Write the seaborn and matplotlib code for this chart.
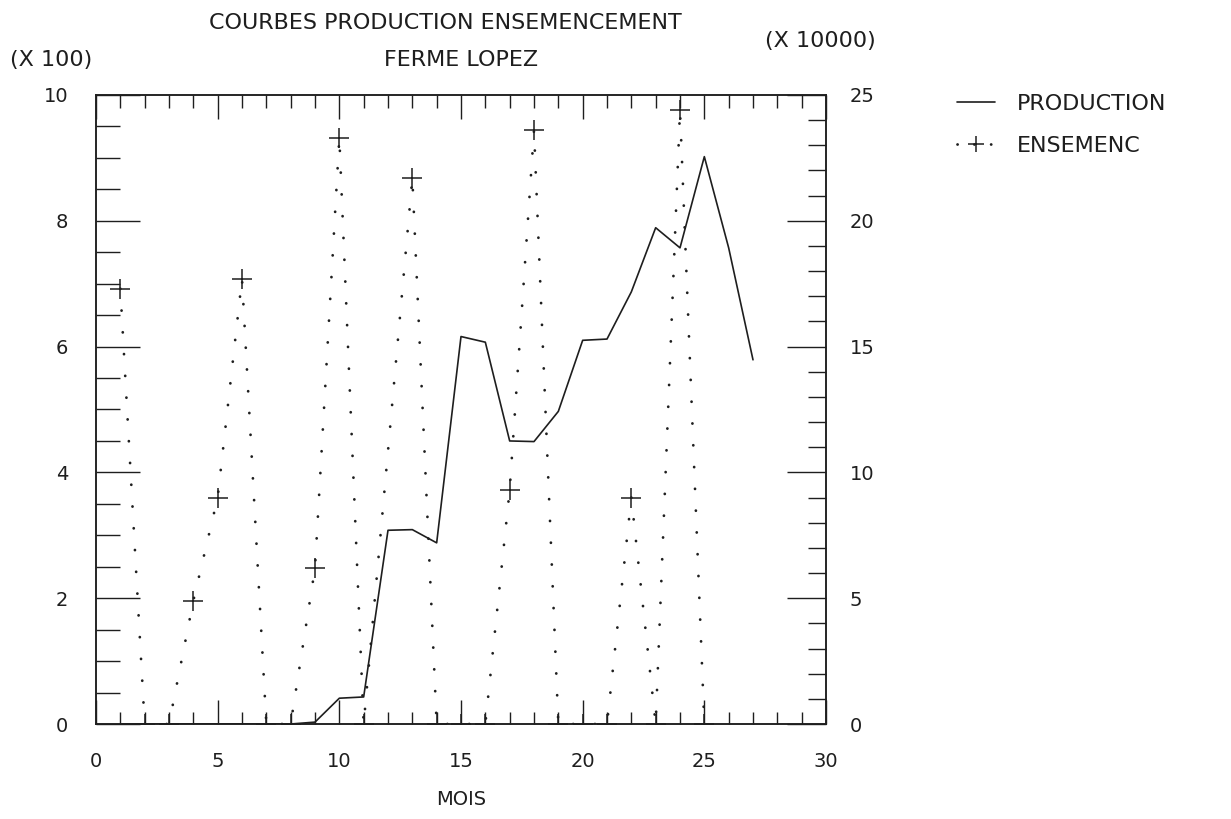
import matplotlib
matplotlib.use("Agg")
import matplotlib.pyplot as plt
from matplotlib.lines import Line2D
from matplotlib.ticker import MultipleLocator
import seaborn as sns
import pandas as pd

# Monthly production (hundreds) and seeding (tens of thousands)
mois_production = list(range(1, 28))
production = [0, 0, 0, 0, 0, 0, 0, 0, 0.03, 0.41, 0.43, 3.08, 3.09, 2.88,
              6.16, 6.07, 4.50, 4.49, 4.97, 6.10, 6.12, 6.87, 7.89, 7.57,
              9.02, 7.57, 5.79]

mois_ensemenc = [1, 2, 3, 4, 5, 6, 7, 8, 9, 10, 11, 13, 14, 15, 16, 17, 18,
                 19, 20, 21, 22, 23, 24, 25]
ensemenc = [17.3, 0, 0, 4.9, 9.0, 17.7, 0, 0, 6.2, 23.3, 0, 21.7, 0, 0, 0,
            9.3, 23.6, 0, 0, 0, 9.0, 0, 24.4, 0]

x_ticks = [0, 5, 10, 15, 20, 25, 30]
left_ticks = [0, 2, 4, 6, 8, 10]
right_ticks = [0, 5, 10, 15, 20, 25]

sns.set_style("white")
plt.rcParams["font.family"] = ["DejaVu Sans"]
INK = "#1e1e1e"
plt.rcParams["text.color"] = INK
plt.rcParams["axes.labelcolor"] = INK
plt.rcParams["xtick.color"] = INK
plt.rcParams["ytick.color"] = INK

W, H = 1231, 819
fig = plt.figure(figsize=(W / 100, H / 100), dpi=100)
ax = fig.add_axes([96 / W, 1 - 724 / H, 730 / W, 629 / H])
ax2 = ax.twinx()

df_p = pd.DataFrame({"mois": mois_production, "production": production})
df_e = pd.DataFrame({"mois": mois_ensemenc, "ensemenc": ensemenc})

sns.lineplot(data=df_p, x="mois", y="production", ax=ax, color=INK,
             linewidth=1.2, sort=True)
sns.lineplot(data=df_e, x="mois", y="ensemenc", ax=ax2, color=INK,
             linewidth=2.0, marker="+", markersize=14, markeredgewidth=1.1,
             markeredgecolor=INK, sort=True)
DOTS = (0, (0.05, 7.8))
dot_line = ax2.lines[-1]
dot_line.set_linestyle(DOTS)
dot_line.set_dash_capstyle("round")

ax.set_xlim(0, 30)
ax.set_ylim(0, 10)
ax2.set_ylim(0, 25)

ax.set_xticks(x_ticks)
ax.set_xticklabels([str(v) for v in x_ticks])
ax.xaxis.set_minor_locator(MultipleLocator(1))
ax.set_yticks(left_ticks)
ax.set_yticklabels([str(v) for v in left_ticks])
ax.yaxis.set_minor_locator(MultipleLocator(0.5))
ax2.set_yticks(right_ticks)
ax2.set_yticklabels([str(v) for v in right_ticks])
ax2.yaxis.set_minor_locator(MultipleLocator(1))

ax.tick_params(axis="x", which="both", direction="in", top=True, bottom=True,
               labelsize=14, pad=20, width=1.0)
ax.tick_params(axis="x", which="major", length=17)
ax.tick_params(axis="x", which="minor", length=9)
ax.tick_params(axis="y", which="both", direction="in", left=True, right=False,
               labelsize=14, pad=20, width=1.0)
ax.tick_params(axis="y", which="major", length=32)
ax.tick_params(axis="y", which="minor", length=17)
ax2.tick_params(axis="y", which="both", direction="in", right=True, left=False,
                labelsize=14, pad=17, width=1.0)
ax2.tick_params(axis="y", which="major", length=28)
ax2.tick_params(axis="y", which="minor", length=13)

for a in (ax, ax2):
    for s in a.spines.values():
        s.set_color(INK)
        s.set_linewidth(1.1)

ax.set_xlabel("MOIS", fontsize=14, labelpad=14)
ax.set_ylabel("")
ax2.set_ylabel("")

fig.text(445 / W, 1 - 23 / H, "COURBES PRODUCTION ENSEMENCEMENT",
         fontsize=16, ha="center", va="center")
fig.text(765 / W, 1 - 41 / H, "(X 10000)", fontsize=16, ha="left",
         va="center")
fig.text(10 / W, 1 - 60 / H, "(X 100)", fontsize=16, ha="left",
         va="center")
fig.text(461 / W, 1 - 60 / H, "FERME LOPEZ", fontsize=16, ha="center",
         va="center")

handles = [
    Line2D([], [], color=INK, linewidth=1.2),
    Line2D([], [], color=INK, linewidth=2.0, linestyle=(0, (0.05, 6.0)),
           dash_capstyle="round", marker="+", markersize=11,
           markeredgewidth=1.1),
]
fig.legend(handles, ["PRODUCTION", "ENSEMENC"], loc="upper left",
           bbox_to_anchor=(937 / W, 1 - 74 / H), frameon=False, fontsize=16,
           handlelength=1.7, handletextpad=1.0, labelspacing=1.0)

fig.savefig("out.png", dpi=100)
